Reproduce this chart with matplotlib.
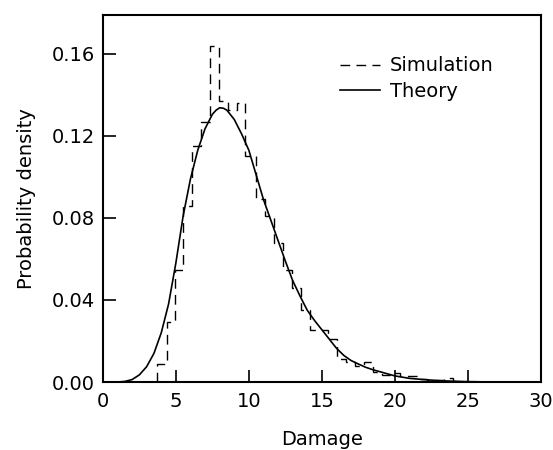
import numpy as np
import matplotlib.pyplot as plt

plt.rcParams['font.family'] = ['DejaVu Sans']
plt.rcParams['font.size'] = 14

# Simulation histogram (bin edges and densities)
sim_edges = [3.72, 4.36, 4.93, 5.50, 6.14, 6.71, 7.33, 7.97, 8.58, 9.21, 9.77,
             10.48, 11.10, 11.71, 12.33, 12.94, 13.56, 14.17, 14.79, 15.40,
             16.02, 16.63, 17.25, 17.86, 18.48, 19.09, 19.71, 20.32, 20.94,
             21.55, 22.17, 22.78, 23.40, 24.01, 24.63]
sim_density = [0.009, 0.0294, 0.0547, 0.086, 0.115, 0.127, 0.1637, 0.137,
               0.1325, 0.136, 0.110, 0.089, 0.081, 0.068, 0.0547, 0.046,
               0.035, 0.0254, 0.0254, 0.021, 0.011, 0.010, 0.008, 0.010,
               0.005, 0.0035, 0.0042, 0.003, 0.003, 0.0015, 0.001, 0.0008,
               0.002, 0.0005]

# Theory curve
theory_x = [0.0, 1.0, 1.5, 2.0, 2.5, 3.0, 3.5, 4.0, 4.5, 5.0, 5.5, 6.0, 6.5,
            7.0, 7.5, 7.75, 8.0, 8.25, 8.5, 9.0, 9.5, 10.0, 10.5, 11.0, 11.5,
            12.0, 12.5, 13.0, 13.5, 14.0, 14.5, 15.0, 15.5, 16.0, 16.5, 17.0,
            17.5, 18.0, 18.5, 19.0, 19.5, 20.0, 21.0, 22.0, 23.0, 24.0, 25.0,
            26.0, 28.0, 30.0]
theory_y = [0.0, 0.0, 0.0003, 0.0012, 0.0035, 0.0075, 0.014, 0.024, 0.038,
            0.058, 0.081, 0.099, 0.113, 0.1235, 0.1305, 0.1325, 0.1337, 0.1335,
            0.1325, 0.128, 0.121, 0.113, 0.101, 0.089, 0.079, 0.069, 0.059,
            0.0495, 0.042, 0.035, 0.030, 0.0255, 0.021, 0.0165, 0.013, 0.0105,
            0.0088, 0.0072, 0.006, 0.005, 0.004, 0.003, 0.0018, 0.0012, 0.0007,
            0.0004, 0.0002, 0.0001, 0.0, 0.0]

fig = plt.figure(figsize=(5.53, 4.5), dpi=100)
ax = fig.add_axes([0.186, 0.151, 0.792, 0.816])

ax.stairs(sim_density, sim_edges, color='black', lw=1.0,
          linestyle=(0, (7, 4.5)), label='Simulation')
ax.plot(theory_x, theory_y, color='black', lw=1.2, label='Theory')

ax.set_xlim(0, 30)
ax.set_ylim(0, 0.179)
ax.set_xticks([0, 5, 10, 15, 20, 25, 30])
ax.set_yticks([0.0, 0.04, 0.08, 0.12, 0.16])
ax.set_yticklabels(['0.00', '0.04', '0.08', '0.12', '0.16'])
ax.tick_params(direction='in', length=9, width=1.2)
ax.tick_params(axis='x', pad=7)
ax.tick_params(axis='y', pad=6)
for s in ax.spines.values():
    s.set_linewidth(1.5)

ax.set_xlabel('Damage', labelpad=14)
ax.set_ylabel('Probability density', labelpad=11)

ax.legend(loc='upper left', bbox_to_anchor=(0.541, 0.887), frameon=False,
          borderpad=0, borderaxespad=0, handlelength=2.06, handletextpad=0.5,
          labelspacing=0.34)

fig.savefig('out.png', dpi=100)
